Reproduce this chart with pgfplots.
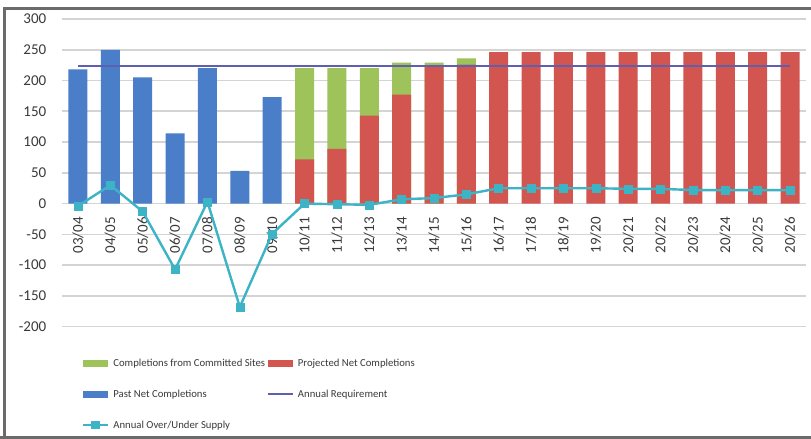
\documentclass[border=0pt]{standalone}
\usepackage{pgfplots}
\pgfplotsset{compat=1.18}
\usepackage{fontspec}
\setmainfont{Carlito}
\definecolor{cblue}{HTML}{4A7EC8}
\definecolor{cred}{HTML}{D25550}
\definecolor{cgreen}{HTML}{9DC35A}
\definecolor{creq}{HTML}{5F5FB0}
\definecolor{ccyan}{HTML}{3DB3C6}
\definecolor{framegray}{HTML}{6B6B6B}
\definecolor{gridgray}{HTML}{D4D4D4}
\definecolor{txtgray}{HTML}{3A3A3A}
\begin{document}
\begin{tikzpicture}[x=1bp,y=1bp]
\useasboundingbox (0,0) rectangle (811,439);
\fill[white] (0,0) rectangle (811,439);
\draw[line width=3bp, color=framegray] (4.5,0) -- (4.5,430.5) -- (811,430.5);
\draw[line width=3bp, color=framegray] (0,1.5) -- (811,1.5);
\begin{axis}[
  at={(61.8bp,112.3bp)}, anchor=south west,
  scale only axis, width=744.4bp, height=307.7bp,
  xmin=-0.5, xmax=22.5, ymin=-200, ymax=300,
  axis x line=middle, axis y line=left,
  hide obscured x ticks=false, hide obscured y ticks=false,
  axis line style={draw=none,-},
  major tick length=0pt,
  ytick={-200,-150,...,300},
  /pgf/number format/assume math mode=true,
  ymajorgrids, grid style={line width=1.6bp, color=gridgray},
  xtick={0,...,22},
  xticklabels={03/04,04/05,05/06,06/07,07/08,08/09,09/10,10/11,11/12,12/13,13/14,14/15,15/16,16/17,17/18,18/19,19/20,20/21,20/22,20/23,20/24,20/25,20/26},
  ticklabel style={font=\fontsize{15bp}{17bp}\selectfont, text=txtgray},
  xticklabel style={rotate=90, anchor=east, xshift=-10bp},
  yticklabel style={xshift=-12bp},
  legend columns=2,
  legend style={at={(0,0)}, anchor=north west, xshift=17bp, yshift=-28bp,
    draw=none, fill=none, font=\fontsize{10.7bp}{12bp}\selectfont, text=txtgray,
    row sep=18bp, column sep=2bp,
    /tikz/every even column/.append style={column sep=0bp}},
  legend cell align=left,
]
\addplot[ybar, bar width=19bp, bar shift=0pt, fill=cgreen, draw=none,
  legend image code/.code={\fill[cgreen] (0bp,-3.5bp) rectangle (25bp,3.5bp);}]
  coordinates {(7,220) (8,220) (9,220) (10,229) (11,229) (12,236)};
\addlegendentry{Completions from Committed Sites}
\addplot[ybar, bar width=19bp, bar shift=0pt, fill=cred, draw=none,
  legend image code/.code={\fill[cred] (0bp,-3.5bp) rectangle (25bp,3.5bp);}]
  coordinates {(7,72) (8,89) (9,143) (10,177) (11,224) (12,226) (13,246) (14,246) (15,246) (16,246) (17,246) (18,246) (19,246) (20,246) (21,246) (22,246)};
\addlegendentry{Projected Net Completions}
\addplot[ybar, bar width=19bp, bar shift=0pt, fill=cblue, draw=none,
  legend image code/.code={\fill[cblue] (0bp,-3.5bp) rectangle (25bp,3.5bp);}]
  coordinates {(0,218) (1,250) (2,205) (3,114) (4,220) (5,53) (6,173)};
\addlegendentry{Past Net Completions}
\addplot[creq, line width=1.8bp, no marks,
  legend image code/.code={\draw[creq, line width=1.8bp] (0bp,0bp) -- (25bp,0bp);}]
  coordinates {(0,223) (22,223)};
\addlegendentry{Annual Requirement}
\addplot[ccyan, line width=2.4bp, mark=square*, mark size=4bp, mark options={fill=ccyan, draw=ccyan, line width=0.5bp},
  legend image code/.code={\draw[ccyan, line width=2.4bp] (0bp,0bp) -- (25bp,0bp); \fill[ccyan] (9bp,-3bp) rectangle (16bp,3bp);}]
  coordinates {(0,-4) (1,30) (2,-13) (3,-107) (4,3) (5,-168) (6,-49) (7,0) (8,-1) (9,-2) (10,7) (11,9) (12,15) (13,25) (14,25) (15,25) (16,25) (17,24) (18,24) (19,22) (20,22) (21,22) (22,22)};
\addlegendentry{Annual Over/Under Supply}
\end{axis}
\end{tikzpicture}
\end{document}
